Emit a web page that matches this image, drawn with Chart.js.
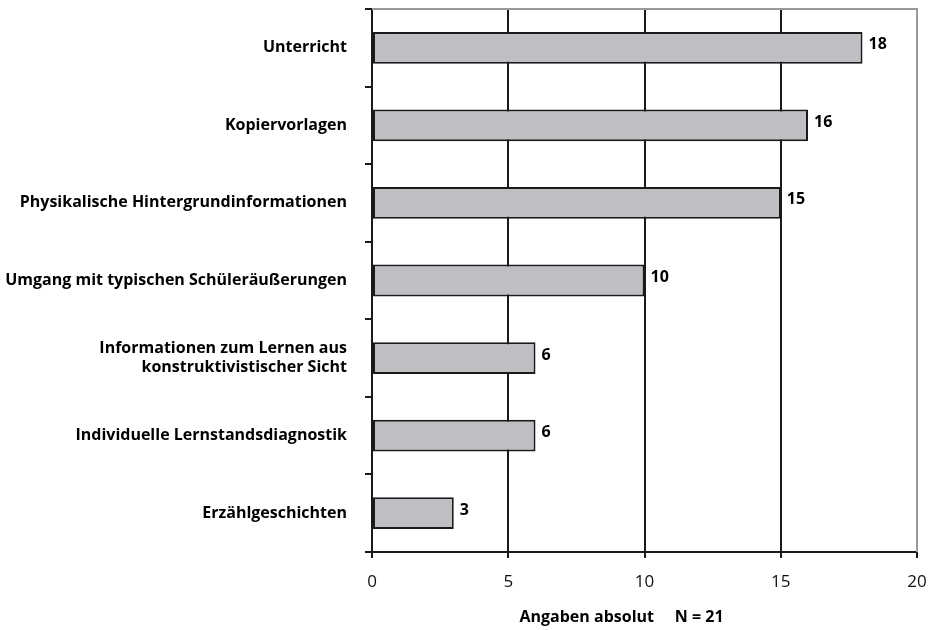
<!DOCTYPE html>
<html>
<head>
<meta charset="utf-8">
<script src="https://cdn.jsdelivr.net/npm/chart.js@4/dist/chart.umd.min.js"></script>
<style>
  body { margin: 0; background: #fff; }
  #wrap { width: 930px; height: 630px; }
</style>
</head>
<body>
<div id="wrap"><canvas id="chart" width="930" height="630"></canvas></div>
<script>
const categories = [
  "Unterricht",
  "Kopiervorlagen",
  "Physikalische Hintergrundinformationen",
  "Umgang mit typischen Schüleräußerungen",
  ["Informationen zum Lernen aus", "konstruktivistischer Sicht"],
  "Individuelle Lernstandsdiagnostik",
  "Erzählgeschichten"
];
const counts = [18, 16, 15, 10, 6, 6, 3];
const xTicks = [0, 5, 10, 15, 20];
const axisTitle = "Angaben absolut     N = 21";

const FONT = "'Open Sans', sans-serif";

// grey frame on the top and right side of the plot area
const plotFrame = {
  id: "plotFrame",
  beforeDatasetsDraw(chart) {
    const { ctx, chartArea: a } = chart;
    ctx.save();
    ctx.strokeStyle = "#9a9a9a";
    ctx.lineWidth = 2;
    ctx.beginPath();
    ctx.moveTo(a.left, a.top);
    ctx.lineTo(a.right, a.top);
    ctx.lineTo(a.right, a.bottom);
    ctx.stroke();
    ctx.restore();
  }
};

// writes each count just right of its bar, plus the x axis caption
const valueLabels = {
  id: "valueLabels",
  afterDatasetsDraw(chart) {
    const ctx = chart.ctx;
    const a = chart.chartArea;
    const meta = chart.getDatasetMeta(0);
    ctx.save();
    ctx.font = "bold 16px " + FONT;
    ctx.fillStyle = "#000";
    ctx.textAlign = "left";
    ctx.textBaseline = "middle";
    meta.data.forEach((bar, i) => {
      ctx.fillText(String(counts[i]), bar.x + 6, bar.y - 3);
    });
    // caption sits a little left of the axis centre
    ctx.font = "bold 16px " + FONT;
    ctx.textAlign = "center";
    ctx.fillText(axisTitle, (a.left + a.right) / 2 - 23, chart.height - 13);
    ctx.restore();
  }
};

new Chart(document.getElementById("chart"), {
  type: "bar",
  data: {
    labels: categories,
    datasets: [{
      data: counts,
      backgroundColor: "#bebfc3",
      borderColor: "#1a1a1a",
      borderWidth: 2,
      borderSkipped: false,
      categoryPercentage: 1,
      barPercentage: 0.41
    }]
  },
  options: {
    indexAxis: "y",
    responsive: false,
    animation: false,
    layout: { padding: { top: 9, right: 13 } },
    plugins: {
      legend: { display: false },
      tooltip: { enabled: false }
    },
    scales: {
      x: {
        min: 0,
        max: 20,
        afterBuildTicks: (scale) => { scale.ticks = xTicks.map(v => ({ value: v })); },
        afterFit: (scale) => {
          scale.height = 78;
          scale.paddingLeft = 0;
          scale.paddingRight = 0;
        },
        border: { color: "#1a1a1a", width: 2 },
        grid: {
          color: (c) => (c.index === xTicks.length - 1 ? "rgba(0,0,0,0)" : "#1a1a1a"),
          lineWidth: 2,
          tickLength: 6,
          tickColor: "#1a1a1a"
        },
        ticks: {
          color: "#111",
          font: { family: FONT, size: 17 },
          padding: 14
        }
      },
      y: {
        afterFit: (scale) => {
          scale.width = 372;
          scale.paddingTop = 0;
          scale.paddingBottom = 0;
        },
        border: { color: "#1a1a1a", width: 2 },
        grid: {
          offset: true,
          color: "rgba(0,0,0,0)",
          lineWidth: 2,
          tickLength: 7,
          tickColor: "#1a1a1a"
        },
        ticks: {
          color: "#000",
          font: { family: FONT, size: 16, weight: "bold" },
          padding: 18,
          lineHeight: 1.3
        }
      }
    }
  },
  plugins: [plotFrame, valueLabels]
});
</script>
</body>
</html>
